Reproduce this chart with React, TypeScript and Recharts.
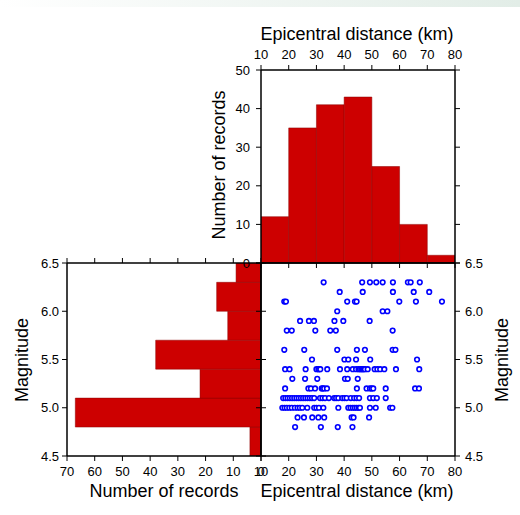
import React from 'react';
import {
  ComposedChart,
  ScatterChart,
  Scatter,
  XAxis,
  YAxis,
  ReferenceArea,
} from 'recharts';

const W = 520;
const H = 515;
const FONT = '"Liberation Sans", Arial, Helvetica, sans-serif';
const RED = '#cd0000';
const BLUE = '#0000ff';

// histogram of epicentral distance (top panel)
const distanceEdges = [10, 20, 30, 40, 50, 60, 70, 80];
const distanceCounts = [12, 35, 41, 43, 25, 10, 2];

// histogram of magnitude (left panel)
const magnitudeEdges = [4.5, 4.8, 5.1, 5.4, 5.7, 6.0, 6.3, 6.6];
const magnitudeCounts = [4, 67, 22, 38, 12, 16, 9];

// tick labels
const distanceTicks = [10, 20, 30, 40, 50, 60, 70, 80];
const topCountTicks = [0, 10, 20, 30, 40, 50];
const leftCountTicks = [0, 10, 20, 30, 40, 50, 60, 70];
const magnitudeTicks = [4.5, 5.0, 5.5, 6.0, 6.5];

// records: epicentral distance (km) for each magnitude level
const m48 = [22.3, 31.6, 37.7, 43.0];
const m49 = [23.2, 25.5, 28.5, 30.7, 32.8, 42.7, 43.4, 49.0];
const m50 = [17.7, 18.5, 19.3, 20.2, 21.1, 22.2, 23.2, 24.0, 24.9, 26.7, 29.2, 30.0, 30.9, 32.5, 37.9, 41.5, 42.3, 43.1, 43.8, 44.5, 45.2, 45.7, 49.3, 51.4, 56.6, 57.4];
const m51 = [18.0, 18.8, 19.6, 20.4, 21.2, 22.0, 22.8, 23.6, 24.4, 25.2, 26.0, 26.8, 27.6, 28.4, 29.2, 31.3, 32.2, 33.1, 34.5, 36.4, 37.1, 37.9, 39.3, 40.1, 40.9, 42.4, 43.6, 44.5, 45.4, 49.3, 50.5, 51.8, 55.0];
const m52 = [18.7, 27.1, 28.0, 29.5, 31.9, 32.3, 32.8, 33.8, 44.6, 48.1, 49.3, 49.9, 50.5, 55.0, 65.6, 67.0];
const m53 = [21.3, 25.9, 30.3, 40.3, 41.3, 44.9];
const m54 = [18.7, 20.3, 26.1, 30.0, 30.7, 31.0, 31.4, 33.9, 38.5, 41.1, 43.1, 44.3, 45.2, 45.7, 46.2, 46.6, 47.1, 47.5, 48.5, 51.0, 52.0, 53.0, 54.5, 58.7, 67.1];
const m55 = [28.4, 40.1, 41.5, 44.3, 49.4, 66.3];
const m56 = [18.4, 25.6, 37.5, 44.6, 47.5, 57.5, 58.5];
const m58 = [19.3, 21.1, 29.6, 35.0, 37.0, 57.5];
const m59 = [24.1, 27.3, 29.1, 36.5, 39.7, 49.2];
const m60 = [37.5, 53.9, 55.6];
const m61 = [18.4, 19.0, 41.1, 43.9, 44.5, 59.9, 65.9, 75.3];
const m62 = [38.4, 46.7, 57.6, 65.1, 70.7];
const m63 = [32.6, 46.5, 49.3, 51.6, 53.9, 57.6, 63.0, 64.0, 67.3];

const magnitudeLevels = [4.8, 4.9, 5.0, 5.1, 5.2, 5.3, 5.4, 5.5, 5.6, 5.8, 5.9, 6.0, 6.1, 6.2, 6.3];
const distancesByLevel = [m48, m49, m50, m51, m52, m53, m54, m55, m56, m58, m59, m60, m61, m62, m63];

const records = magnitudeLevels.flatMap((mag, i) =>
  distancesByLevel[i].map((dist) => ({ dist, mag }))
);

const distanceBins = distanceCounts.map((count, i) => ({
  lo: distanceEdges[i],
  hi: distanceEdges[i + 1],
  count,
}));
const magnitudeBins = magnitudeCounts.map((count, i) => ({
  lo: magnitudeEdges[i],
  hi: magnitudeEdges[i + 1],
  count,
}));

const tickStyle = { fill: '#000', fontSize: 13, fontFamily: FONT };
const axisLine = { stroke: '#000', strokeWidth: 1.5 };
const tickLine = { stroke: '#000', strokeWidth: 1 };
const blank = () => '';
const oneDecimal = (v: number) => v.toFixed(1);

const axisCommon = {
  type: 'number' as const,
  allowDataOverflow: true,
  interval: 0 as const,
  tickSize: 5,
  axisLine,
  tickLine,
  tick: tickStyle,
};

const Dot = (props: any) => (
  <circle cx={props.cx} cy={props.cy} r={2.3} fill="#fff" stroke={BLUE} strokeWidth={1.6} />
);

const DistanceHistogram = () => (
  <ComposedChart data={distanceBins} width={W} height={H} margin={{ top: 40, right: 55, bottom: 242, left: 221 }}>
    <XAxis {...axisCommon} xAxisId="t" dataKey="lo" orientation="top" domain={[10, 80]} ticks={distanceTicks} height={30} tickMargin={6} />
    <XAxis {...axisCommon} xAxisId="b" dataKey="lo" orientation="bottom" domain={[10, 80]} ticks={distanceTicks} height={10} tickFormatter={blank} />
    <YAxis {...axisCommon} yAxisId="l" dataKey="count" orientation="left" domain={[0, 50]} ticks={topCountTicks} width={40} tickMargin={6} />
    <YAxis {...axisCommon} yAxisId="r" dataKey="count" orientation="right" domain={[0, 50]} ticks={topCountTicks} width={10} tickFormatter={blank} />
    {distanceBins.map((bin, i) => (
      <ReferenceArea
        key={i}
        xAxisId="t"
        yAxisId="l"
        x1={bin.lo}
        x2={bin.hi}
        y1={0}
        y2={bin.count}
        fill={RED}
        fillOpacity={1}
        stroke="#8b0000"
        strokeWidth={0.5}
        ifOverflow="hidden"
      />
    ))}
  </ComposedChart>
);

const MagnitudeHistogram = () => (
  <ComposedChart data={magnitudeBins} width={W} height={H} margin={{ top: 253, right: 249, bottom: 29, left: 27 }}>
    <XAxis {...axisCommon} xAxisId="b" dataKey="count" orientation="bottom" reversed domain={[0, 70]} ticks={leftCountTicks} height={30} tickMargin={6} />
    <XAxis {...axisCommon} xAxisId="t" dataKey="count" orientation="top" reversed domain={[0, 70]} ticks={leftCountTicks} height={10} tickFormatter={blank} />
    <YAxis {...axisCommon} yAxisId="l" dataKey="lo" orientation="left" domain={[4.5, 6.5]} ticks={magnitudeTicks} width={40} tickMargin={3} tickFormatter={oneDecimal} />
    <YAxis {...axisCommon} yAxisId="r" dataKey="lo" orientation="right" domain={[4.5, 6.5]} ticks={magnitudeTicks} width={10} tickFormatter={blank} />
    {magnitudeBins.map((bin, i) => (
      <ReferenceArea
        key={i}
        xAxisId="b"
        yAxisId="l"
        x1={0}
        x2={bin.count}
        y1={bin.lo}
        y2={bin.hi}
        fill={RED}
        fillOpacity={1}
        stroke="#8b0000"
        strokeWidth={0.5}
        ifOverflow="hidden"
      />
    ))}
  </ComposedChart>
);

const RecordsScatter = () => (
  <ScatterChart width={W} height={H} margin={{ top: 253, right: 25, bottom: 29, left: 251 }}>
    <XAxis {...axisCommon} xAxisId="b" dataKey="dist" orientation="bottom" domain={[10, 80]} ticks={distanceTicks} height={30} tickMargin={6} />
    <XAxis {...axisCommon} xAxisId="t" orientation="top" domain={[10, 80]} ticks={distanceTicks} height={10} tickFormatter={blank} />
    <YAxis {...axisCommon} yAxisId="r" dataKey="mag" orientation="right" domain={[4.5, 6.5]} ticks={magnitudeTicks} width={40} tickMargin={5} tickFormatter={oneDecimal} />
    <YAxis {...axisCommon} yAxisId="l" orientation="left" domain={[4.5, 6.5]} ticks={magnitudeTicks} width={10} tickFormatter={blank} />
    <Scatter data={records} xAxisId="b" yAxisId="r" shape={Dot} isAnimationActive={false} />
  </ScatterChart>
);

const titleStyle: React.CSSProperties = {
  position: 'absolute',
  fontSize: 18,
  lineHeight: '18px',
  color: '#000',
  whiteSpace: 'nowrap',
  textAlign: 'center',
  width: 240,
};

const Title = ({ text, cx, top }: { text: string; cx: number; top: number }) => (
  <div style={{ ...titleStyle, left: cx - 120, top }}>{text}</div>
);

const VTitle = ({ text, cx, cy }: { text: string; cx: number; cy: number }) => (
  <div style={{ ...titleStyle, left: cx - 120, top: cy - 9, transform: 'rotate(-90deg)' }}>{text}</div>
);

const layer: React.CSSProperties = { position: 'absolute', left: 0, top: 0 };

export default function App() {
  return (
    <div
      style={{
        position: 'absolute',
        left: 0,
        top: 0,
        width: W,
        height: H,
        background: '#fff',
        fontFamily: FONT,
        overflow: 'hidden',
      }}
    >
      <div
        style={{
          position: 'absolute',
          left: 0,
          top: 0,
          width: W,
          height: 7,
          background: 'linear-gradient(to right, #ffffff, #e2ede7)',
        }}
      />
      <div style={layer}><MagnitudeHistogram /></div>
      <div style={layer}><DistanceHistogram /></div>
      <div style={layer}><RecordsScatter /></div>
      <Title text="Epicentral distance (km)" cx={357} top={25} />
      <VTitle text="Number of records" cx={219} cy={165} />
      <VTitle text="Magnitude" cx={22} cy={360} />
      <VTitle text="Magnitude" cx={502} cy={360} />
      <Title text="Number of records" cx={164} top={482} />
      <Title text="Epicentral distance (km)" cx={357} top={482} />
    </div>
  );
}
